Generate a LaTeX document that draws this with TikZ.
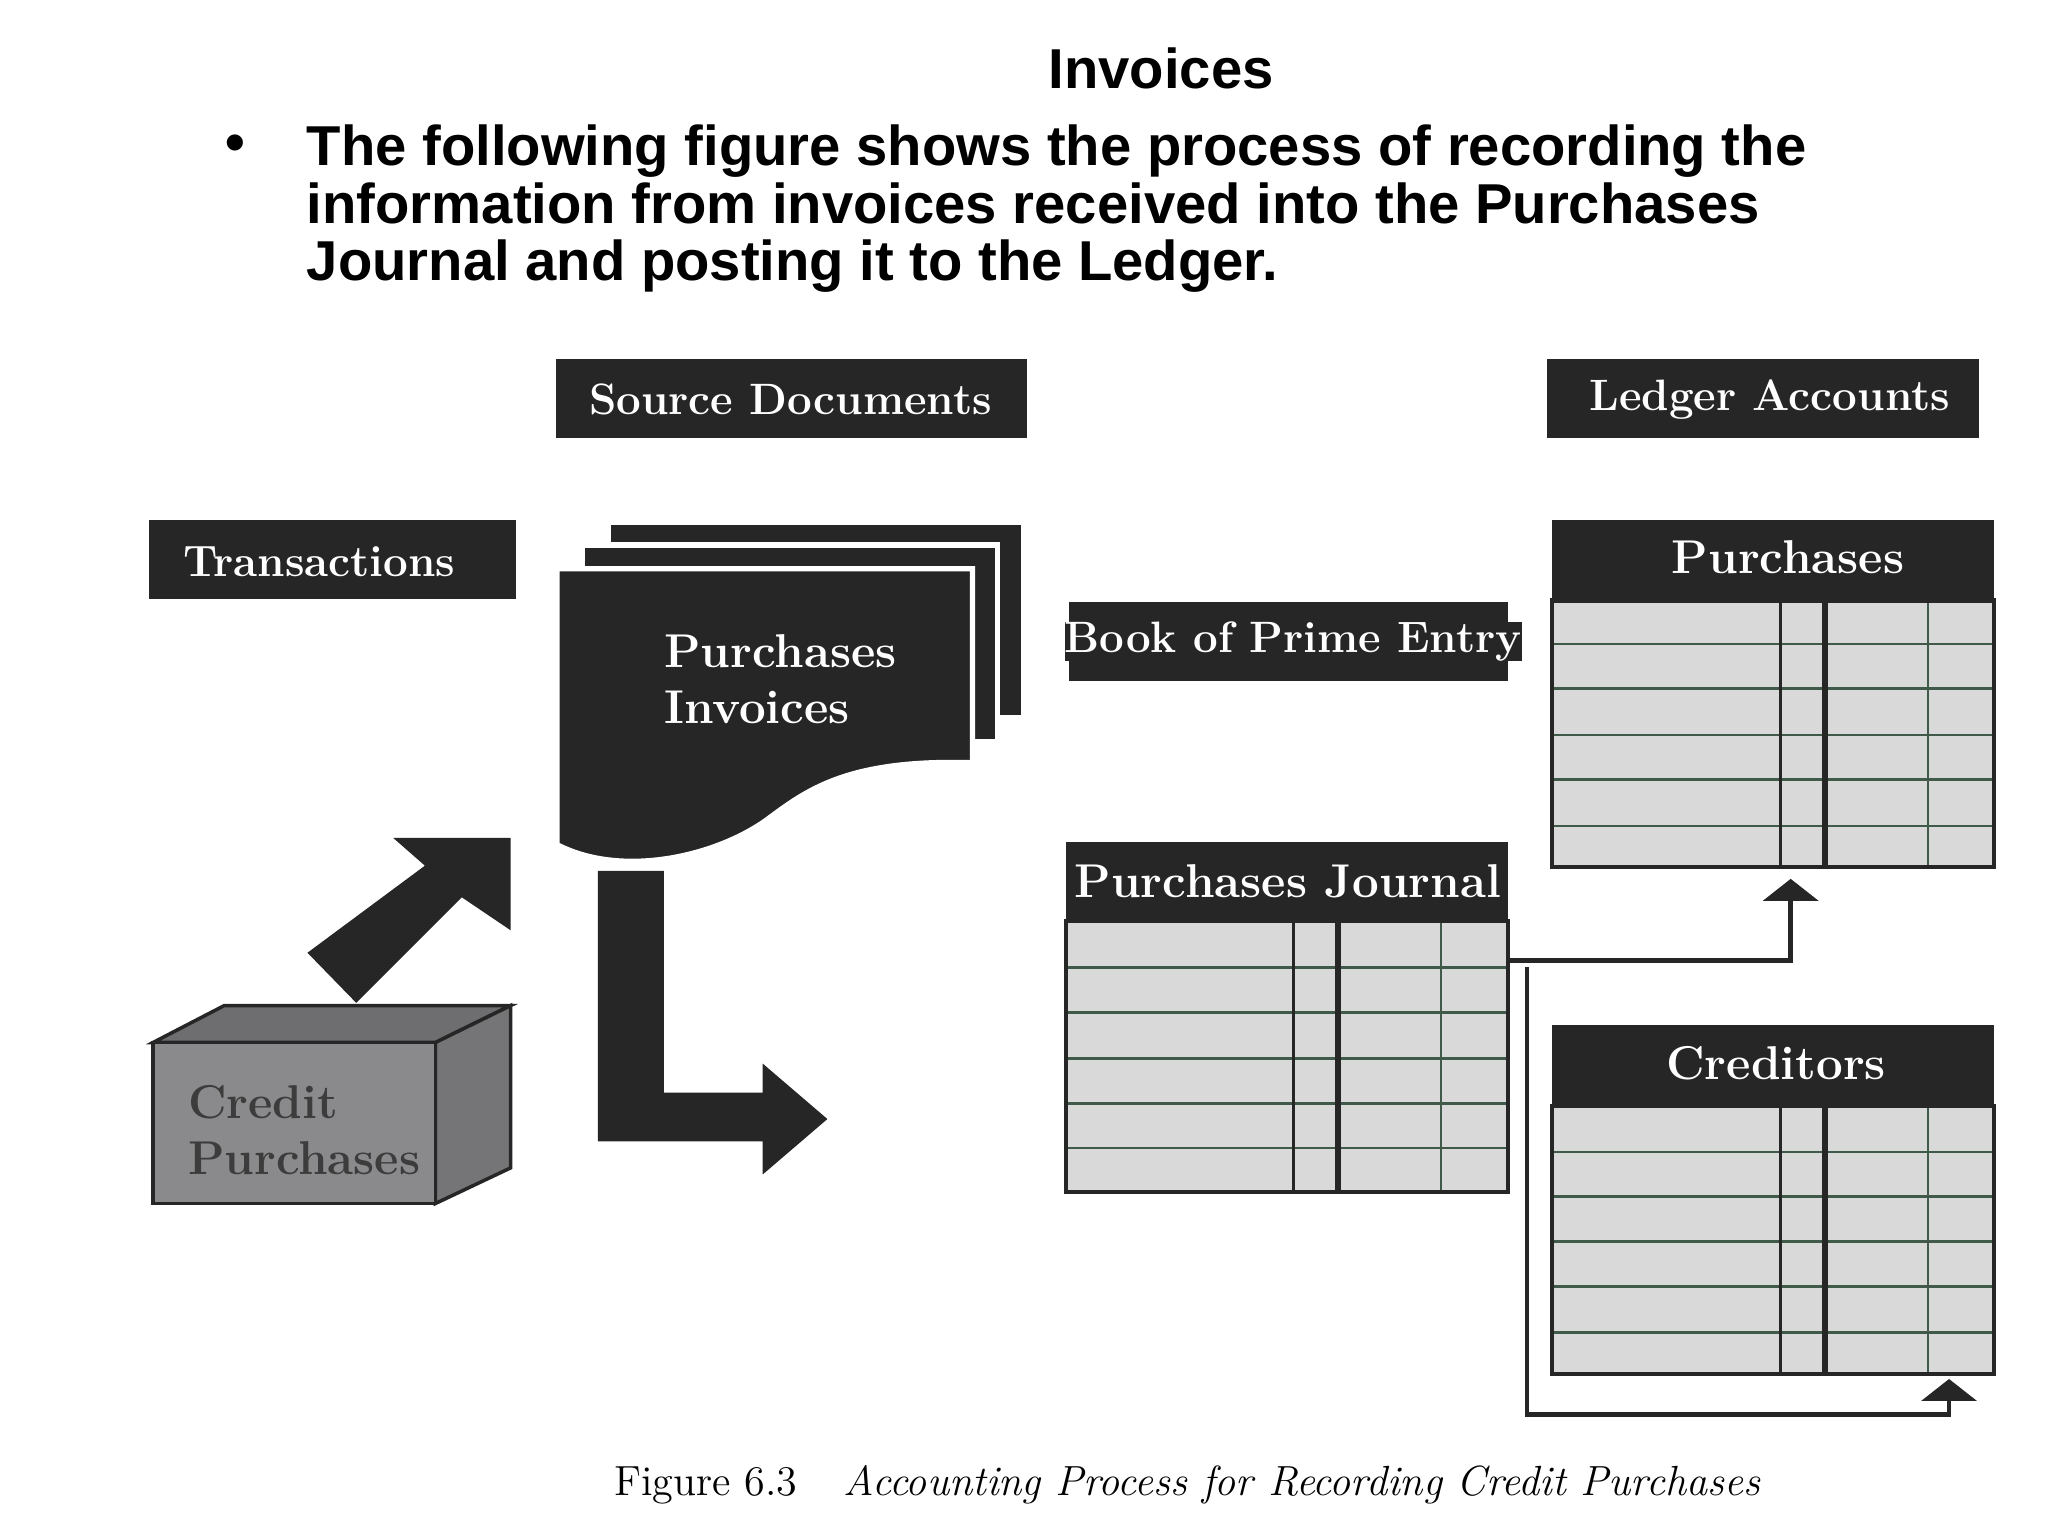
\documentclass[tikz,border=0pt]{standalone}
\usepackage{fontspec}
\setsansfont{Liberation Sans}
\usetikzlibrary{arrows.meta}
\definecolor{dk}{HTML}{262626}
\definecolor{cell}{HTML}{D9D9D9}
\definecolor{rowl}{HTML}{3F5A48}
\definecolor{boxg}{HTML}{8A8A8C}
\tikzset{
  lbl/.style={fill=dk,text=white,font=\bfseries\fontsize{12.5}{14}\selectfont,inner sep=0pt},
  hdr/.style={fill=dk,text=white,font=\bfseries\fontsize{13.5}{15}\selectfont,inner sep=0pt},
  conn/.style={draw=dk,line width=1.3pt,-{Triangle[width=0.55cm,length=0.22cm]}},
  big/.style={fill=dk,draw=none}
}
\newcommand\ltable[9]{% x1 y1 x2 y2 c1 c2 c3 rowlist
  \fill[cell] (#1,#2) rectangle (#3,#4);
  \foreach \r in {#8} \draw[rowl,line width=0.8pt] (#1,\r) -- (#3,\r);
  \draw[dk,line width=0.8pt] (#5,#2) -- (#5,#4);
  \draw[dk,line width=1.8pt] (#6,#2) -- (#6,#4);
  \draw[rowl,line width=0.8pt] (#7,#2) -- (#7,#4);
  \draw[dk,line width=1.2pt] (#1,#2) rectangle (#3,#4);
}
\begin{document}
\begin{tikzpicture}[x=0.013196cm,y=-0.013196cm]
\useasboundingbox[fill=white] (0,0) rectangle (1552,1164);
% title and text
\node[font=\sffamily\bfseries\fontsize{16}{18}\selectfont] (title) at (880,52) {Invoices};
\node[font=\sffamily\bfseries\fontsize{16}{18}\selectfont] (bul) at (178,112) {•};
\node[font=\sffamily\bfseries\fontsize{16}{16.4}\selectfont,anchor=north west,align=left,inner sep=0pt] (body) at (232,94)
 {The following figure shows the process of recording the\\information from invoices received into the Purchases\\Journal and posting it to the Ledger.};
% labels
\fill[dk] (421,272) rectangle (778,332);
\node[lbl] (src) at (599,303) {Source Documents};
\fill[dk] (1172,272) rectangle (1500,332);
\node[lbl] (led) at (1341,303) {Ledger Accounts};
\fill[dk] (113,394) rectangle (391,454);
\node[lbl] (trans) at (242,426) {Transactions};
\fill[dk] (810,456) rectangle (1143,516);
\node[lbl] (bpe) at (980,486) {Book of Prime Entry};
% invoice stack
\filldraw[fill=dk,draw=white,line width=1.5pt] (461,396) rectangle (776,544);
\filldraw[fill=dk,draw=white,line width=1.5pt] (441,413) rectangle (756,562);
\filldraw[fill=dk,draw=white,line width=1.5pt] (422,431) -- (737,431) -- (737,578)
  .. controls (640,575) and (610,600) .. (580,622)
  .. controls (540,650) and (470,665) .. (422,640) -- cycle;
\node[font=\bfseries\fontsize{13.5}{16}\selectfont,text=white,align=left,anchor=north west,inner sep=0pt] (inv) at (503,480) {Purchases\\Invoices};
% arrows
\fill[big] (233,722) -- (270,760) -- (350,680) -- (387,705) -- (387,635) -- (298,635) -- (322,656) -- cycle;
\fill[big] (453,660) -- (503,660) -- (503,828) -- (578,828) -- (578,806) -- (627,848) -- (578,890) -- (578,865) -- (453,865) -- cycle;
% box
\filldraw[fill=boxg!80!black,draw=dk,line width=1pt] (116,790) -- (170,762) -- (387,762) -- (330,790) -- cycle;
\filldraw[fill=boxg!85!black,draw=dk,line width=1pt] (330,790) -- (387,762) -- (387,885) -- (330,912) -- cycle;
\filldraw[fill=boxg,draw=dk,line width=1pt] (116,790) rectangle (330,912);
\node[font=\bfseries\fontsize{13.5}{16}\selectfont,text=dk!90,align=left,anchor=north west,inner sep=0pt] (cp) at (142,822) {Credit\\Purchases};
% purchases journal
\fill[dk] (808,638) rectangle (1143,698);
\node[hdr] (pj) at (976,668) {Purchases Journal};
\ltable{808}{698}{1143}{903}{980}{1014}{1092}{733,767,802,836,870}{}
% purchases ledger
\fill[dk] (1176,394) rectangle (1511,455);
\node[hdr] (pl) at (1355,422) {Purchases};
\ltable{1176}{455}{1511}{657}{1349}{1383}{1461}{488,522,557,591,626}{}
% creditors ledger
\fill[dk] (1176,777) rectangle (1511,838);
\node[hdr] (cl) at (1346,806) {Creditors};
\ltable{1176}{838}{1511}{1041}{1349}{1383}{1461}{873,907,941,975,1010}{}
% connectors
\coordinate (j1) at (1143,728);
\coordinate (p1) at (1357,666);
\draw[conn] (j1) -| (p1);
\coordinate (j2) at (1157,733);
\coordinate (k2) at (1157,1072);
\coordinate (c2) at (1477,1045);
\draw[conn] (j2) -- (k2) -| (c2);
% caption
\node[anchor=west,inner sep=0pt,font=\fontsize{12}{14}\selectfont] (cap) at (465,1125) {Figure 6.3\hspace{1.1em}\itshape Accounting Process for Recording Credit Purchases};
\end{tikzpicture}
\end{document}
